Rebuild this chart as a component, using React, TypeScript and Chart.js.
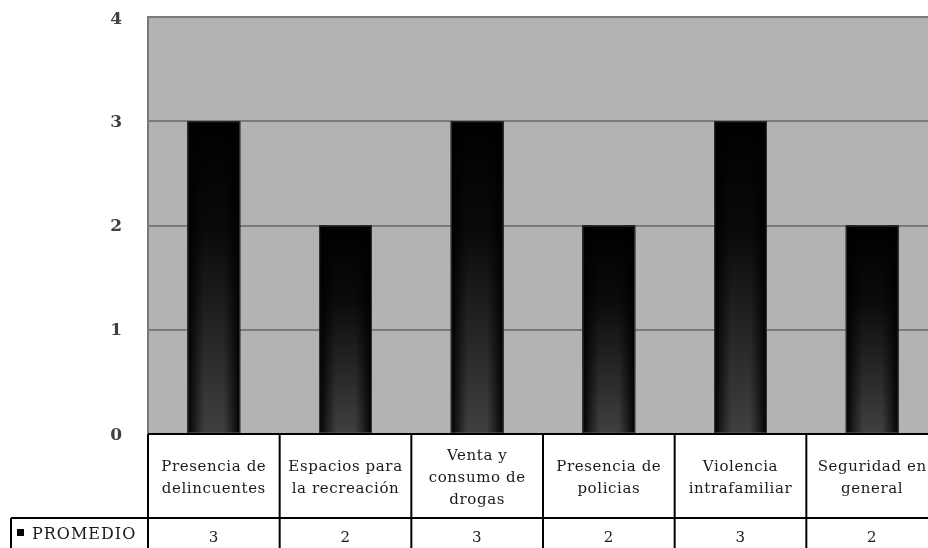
import React, { useEffect, useRef } from "react";
import { Chart, registerables } from "chart.js";

Chart.register(...registerables);

const categories: string[][] = [
  ["Presencia de", "delincuentes"],
  ["Espacios para", "la recreación"],
  ["Venta y", "consumo de", "drogas"],
  ["Presencia de", "policias"],
  ["Violencia", "intrafamiliar"],
  ["Seguridad en", "general"],
];
const values: number[] = [3, 2, 3, 2, 3, 2];
const seriesName = "PROMEDIO";
const yTicks: number[] = [0, 1, 2, 3, 4];

const FONT = "'DejaVu Serif', 'Liberation Serif', serif";

const plotBgPlugin = {
  id: "plotBg",
  beforeDraw(chart: any) {
    const { ctx, chartArea: a } = chart;
    ctx.save();
    ctx.fillStyle = "#b3b3b3";
    ctx.fillRect(a.left, a.top, a.right - a.left, a.bottom - a.top);
    ctx.restore();
  },
};

const barShadePlugin = {
  id: "barShade",
  afterDatasetsDraw(chart: any) {
    const { ctx } = chart;
    const meta = chart.getDatasetMeta(0);
    ctx.save();
    meta.data.forEach((el: any) => {
      const p = el.getProps(["x", "y", "base", "width"], true);
      const l = p.x - p.width / 2;
      const w = p.width;
      const t = p.y;
      const h = p.base - p.y;
      const vg = ctx.createLinearGradient(0, t, 0, p.base);
      vg.addColorStop(0, "#000000");
      vg.addColorStop(0.35, "#0a0a0a");
      vg.addColorStop(1, "#404040");
      ctx.fillStyle = vg;
      ctx.fillRect(l, t, w, h);
      const hg = ctx.createLinearGradient(l, 0, l + w, 0);
      hg.addColorStop(0, "rgba(0,0,0,1)");
      hg.addColorStop(0.15, "rgba(0,0,0,0.5)");
      hg.addColorStop(0.32, "rgba(0,0,0,0)");
      hg.addColorStop(0.68, "rgba(0,0,0,0)");
      hg.addColorStop(0.85, "rgba(0,0,0,0.5)");
      hg.addColorStop(1, "rgba(0,0,0,1)");
      ctx.fillStyle = hg;
      ctx.fillRect(l, t, w, h);
      ctx.strokeStyle = "rgba(90,90,90,0.6)";
      ctx.lineWidth = 1;
      ctx.strokeRect(l + 0.5, t + 0.5, w - 1, h - 1);
    });
    ctx.restore();
  },
};

const tablePlugin = {
  id: "dataTable",
  afterDraw(chart: any) {
    const { ctx, chartArea: a } = chart;
    const xs = chart.scales.x;
    const ys = chart.scales.y;
    const n = categories.length;
    const step = xs.getPixelForValue(1) - xs.getPixelForValue(0);
    const top = a.bottom;
    const row1 = top + 84;
    const row2 = row1 + 44;
    const legendLeft = 11;
    ctx.save();
    // plot border left/top
    ctx.strokeStyle = "#7a7a7a";
    ctx.lineWidth = 2;
    ctx.beginPath();
    ctx.moveTo(a.left, a.bottom);
    ctx.lineTo(a.left, a.top);
    ctx.lineTo(a.right, a.top);
    ctx.stroke();

    // y tick labels
    ctx.fillStyle = "#404040";
    ctx.font = `bold 17px ${FONT}`;
    ctx.textAlign = "right";
    ctx.textBaseline = "middle";
    yTicks.forEach((v, i) => {
      const off = i === yTicks.length - 1 ? 3 : v === 0 ? 2 : 1;
      ctx.fillText(String(v), a.left - 26, ys.getPixelForValue(v) + off);
    });

    ctx.fillStyle = "#ffffff";
    ctx.fillRect(a.left, top, a.right - a.left, row2 - top);
    ctx.fillRect(legendLeft, row1, a.left - legendLeft, row2 - row1);

    ctx.strokeStyle = "#000000";
    ctx.lineWidth = 2;
    ctx.beginPath();
    ctx.moveTo(a.left, top);
    ctx.lineTo(a.right, top);
    ctx.moveTo(legendLeft, row1);
    ctx.lineTo(a.right, row1);
    ctx.moveTo(legendLeft, row1);
    ctx.lineTo(legendLeft, row2);
    for (let i = 0; i <= n; i++) {
      const bx = xs.getPixelForValue(0) - step / 2 + i * step;
      ctx.moveTo(bx, top);
      ctx.lineTo(bx, row2);
    }
    ctx.stroke();

    ctx.fillStyle = "#1a1a1a";
    ctx.textAlign = "center";
    ctx.textBaseline = "middle";
    (ctx as any).letterSpacing = "0.6px";
    ctx.font = `15px ${FONT}`;
    const lh = 22;
    const mid = top + 44;
    categories.forEach((lines, i) => {
      const cx = xs.getPixelForValue(i);
      const start = mid - ((lines.length - 1) * lh) / 2;
      lines.forEach((ln, j) => ctx.fillText(ln, cx, start + j * lh));
      ctx.fillText(String(values[i]), cx, row1 + 20);
    });
    // legend cell
    ctx.fillStyle = "#000000";
    ctx.fillRect(17, row1 + 11, 7, 7);
    ctx.fillStyle = "#1a1a1a";
    ctx.textAlign = "left";
    (ctx as any).letterSpacing = "1px";
    ctx.font = `16px ${FONT}`;
    ctx.fillText(seriesName, 32, row1 + 17);
    ctx.restore();
  },
};

export default function App() {
  const ref = useRef<HTMLCanvasElement | null>(null);
  useEffect(() => {
    if (!ref.current) return;
    const chart = new Chart(ref.current, {
      type: "bar",
      data: {
        labels: categories.map((c) => c.join(" ")),
        datasets: [
          {
            label: seriesName,
            data: values,
            backgroundColor: "#000000",
            barPercentage: 0.4,
            categoryPercentage: 1,
          },
        ],
      },
      options: {
        responsive: false,
        animation: false,
        layout: { padding: { left: 0, right: 12, top: 17, bottom: 126 } },
        plugins: { legend: { display: false }, tooltip: { enabled: false } },
        scales: {
          x: { display: false, offset: true },
          y: {
            min: yTicks[0],
            max: yTicks[yTicks.length - 1],
            afterFit(scale: any) {
              scale.width = 148;
            },
            afterBuildTicks(scale: any) {
              scale.ticks = yTicks.map((v) => ({ value: v }));
            },
            border: { display: false },
            grid: { color: "#7a7a7a", lineWidth: 2, drawTicks: false },
            ticks: { display: false },
          },
        },
      },
      plugins: [plotBgPlugin, barShadePlugin, tablePlugin],
    });
    return () => chart.destroy();
  }, []);
  return (
    <div style={{ position: "fixed", left: 0, top: 0, width: 928, height: 548, overflow: "hidden", background: "#fff" }}>
      <canvas ref={ref} width={950} height={560} style={{ display: "block", width: 950, height: 560 }} />
    </div>
  );
}
